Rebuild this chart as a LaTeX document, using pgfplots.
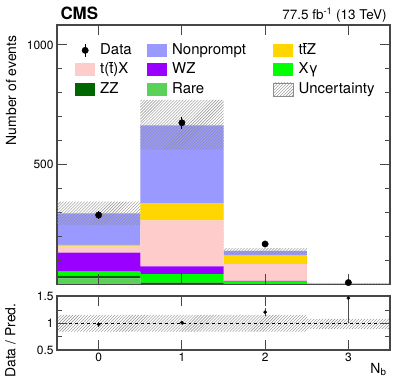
\documentclass[border=0pt]{standalone}
\usepackage{fontspec}
\setmainfont{TeX Gyre Heros}
\usepackage{pgfplots}
\pgfplotsset{compat=1.18}
\usetikzlibrary{patterns}

\definecolor{cNP}{RGB}{153,153,255}
\definecolor{cTTX}{RGB}{255,204,204}
\definecolor{cTTZ}{RGB}{255,214,0}
\definecolor{cWZ}{RGB}{153,0,255}
\definecolor{cXG}{RGB}{0,255,0}
\definecolor{cZZ}{RGB}{0,102,0}
\definecolor{cRare}{RGB}{90,210,90}
\colorlet{hatchcol}{black!45}
\colorlet{framecol}{black!72}

\newcommand{\tbar}{$\overline{\hbox{t}}$}

\pgfplotsset{
  cmsframe/.style={
    scale only axis, width=333bp,
    xmin=-0.5, xmax=3.5,
    xtick={0,1,2,3},
    axis line style={framecol, line width=1.1bp},
    tick style={framecol, line width=0.8bp},
    major tick length=10bp, minor tick length=5bp,
    ticklabel style={font=\fontsize{12}{14}\selectfont},
    /pgf/number format/assume math mode=true,
    /pgf/number format/1000 sep={},
  },
  mainframe/.style={cmsframe,
    at={(57bp,103.5bp)}, anchor=south west, height=259.5bp,
    ymin=0, ymax=1083,
    ytick={500,1000}, minor ytick={100,200,...,1000},
    xticklabels={},
  },
  boxleg/.style={legend image code/.code={\path[##1] (0bp,-6.5bp) rectangle (20bp,6.5bp);}},
}

\begin{document}
\begin{tikzpicture}
\useasboundingbox (0,0) rectangle (407bp,388bp);

% main panel: stacked predictions
\begin{axis}[mainframe, ybar stacked, bar width=1, axis on top]
\addplot[fill=cRare, draw=none] coordinates {(0,26) (1,1) (2,0.5) (3,0.1)};
\addplot[fill=cZZ, draw=none] coordinates {(0,11) (1,7) (2,1.5) (3,0.1)};
\addplot[fill=cXG, draw=none] coordinates {(0,17) (1,35) (2,9.5) (3,0.3)};
\addplot[fill=cWZ, draw=none] coordinates {(0,79) (1,33) (2,4) (3,0.3)};
\addplot[fill=cTTX, draw=none] coordinates {(0,25) (1,192) (2,70) (3,2)};
\addplot[fill=cTTZ, draw=none] coordinates {(0,7) (1,72) (2,35) (3,2.2)};
\addplot[fill=cNP, draw=none] coordinates {(0,132) (1,324) (2,19.5) (3,0.5)};
\end{axis}

% overlay: uncertainty band, data, legend
\begin{axis}[mainframe, yticklabels={},
  legend columns=3,
  legend style={at={(rel axis cs:0.054,0.93)}, anchor=north west,
    draw=none, fill=none, inner sep=0pt, row sep=5.5bp, column sep=0pt,
    font=\fontsize{15}{17}\selectfont,
    nodes={inner sep=0pt, text height=11bp, text depth=3bp}},
  legend cell align=left,
]
% prediction +- uncertainty per bin (lower/upper edges)
\addplot[pattern=north east lines, pattern color=hatchcol, draw=none, forget plot]
  coordinates {(-0.5,346) (0.5,346) (0.5,771) (1.5,771) (1.5,152) (2.5,152) (2.5,6.5) (3.5,6.5)
               (3.5,4.5) (2.5,4.5) (2.5,126) (1.5,126) (1.5,563) (0.5,563) (0.5,248) (-0.5,248)};

\addplot[only marks, mark=*, mark size=3.2bp, black, forget plot,
  error bars/.cd, y dir=both, y explicit, error mark=none,
  error bar style={line width=0.8bp, black}]
  coordinates {(0,290) +- (0,17) (1,675) +- (0,26) (2,169) +- (0,13) (3,8) +- (0,3)};

\addlegendimage{legend image code/.code={\draw[line width=0.8bp] (10bp,-6.5bp)--(10bp,6.5bp); \fill (10bp,0) circle (3.2bp); \path[draw=none] (0bp,0)--(20bp,0);}}
\addlegendentry{\hspace{5bp}\makebox[47bp][l]{Data}}
\addlegendimage{boxleg, fill=cNP, draw=none}
\addlegendentry{\hspace{5bp}\makebox[101bp][l]{Nonprompt}}
\addlegendimage{boxleg, fill=cTTZ, draw=none}
\addlegendentry{\hspace{5bp}t\tbar Z}
\addlegendimage{boxleg, fill=cTTX, draw=none}
\addlegendentry{\hspace{5bp}\makebox[47bp][l]{t(\tbar)X}}
\addlegendimage{boxleg, fill=cWZ, draw=none}
\addlegendentry{\hspace{5bp}\makebox[101bp][l]{WZ}}
\addlegendimage{boxleg, fill=cXG, draw=none}
\addlegendentry{\hspace{5bp}Xγ}
\addlegendimage{boxleg, fill=cZZ, draw=none}
\addlegendentry{\hspace{5bp}\makebox[47bp][l]{ZZ}}
\addlegendimage{boxleg, fill=cRare, draw=none}
\addlegendentry{\hspace{5bp}\makebox[101bp][l]{Rare}}
\addlegendimage{boxleg, pattern=north east lines, pattern color=hatchcol, draw=hatchcol}
\addlegendentry{\hspace{5bp}Uncertainty}
\end{axis}

% ratio panel
\begin{axis}[cmsframe,
  at={(57bp,38bp)}, anchor=south west, height=54bp,
  ymin=0.5, ymax=1.51,
  ytick={0.5,1,1.5}, yticklabels={0.5,1,1.5},
  minor ytick={0.75,1.25},
  axis on top,
]
\addplot[pattern=north east lines, pattern color=hatchcol, draw=none, forget plot]
  coordinates {(-0.5,1.155) (2.5,1.155) (2.5,1.08) (3.5,1.08)
               (3.5,0.89) (2.5,0.89) (2.5,0.845) (-0.5,0.845)};
\addplot[black, dashed, line width=0.6bp, forget plot] coordinates {(-0.5,1) (3.5,1)};
\addplot[only marks, mark=*, mark size=1.6bp, black,
  error bars/.cd, y dir=both, y explicit, error mark=none,
  error bar style={line width=0.7bp, black!70}]
  coordinates {(0,0.98) +- (0,0.045) (1,1.01) +- (0,0.035) (2,1.21) +- (0,0.07)
               (3,1.47) += (0,0.5) -= (0,0.47)};
\end{axis}

% titles and axis labels
\node[anchor=base west, font=\fontsize{17}{19}\bfseries] at (57bp,368bp) {CMS};
\node[anchor=base east, font=\fontsize{13.5}{16}\selectfont] at (390bp,368.5bp)
  {77.5 fb\textsuperscript{-1} (13 TeV)};
\node[rotate=90, anchor=east, font=\fontsize{14}{16}\selectfont] at (11bp,356bp)
  {Number of events};
\node[rotate=90, anchor=east, font=\fontsize{14}{16}\selectfont] at (10.5bp,88bp)
  {Data / Pred.};
\node[anchor=base east, font=\fontsize{14}{16}\selectfont] at (390bp,15bp)
  {N\textsubscript{b}};
\end{tikzpicture}
\end{document}
